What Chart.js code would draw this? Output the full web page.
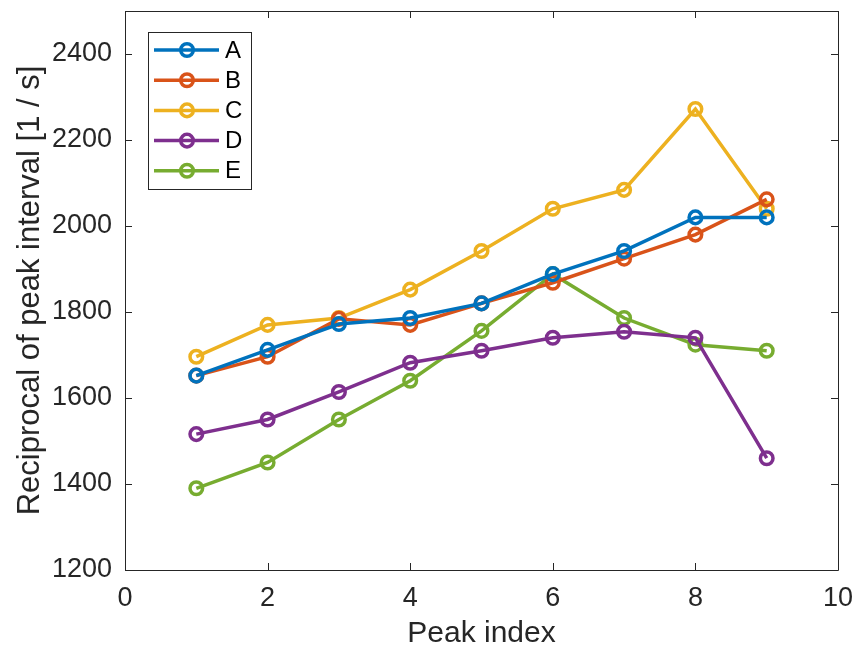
<!DOCTYPE html>
<html>
<head>
<meta charset="utf-8">
<script src="https://cdn.jsdelivr.net/npm/chart.js@4/dist/chart.umd.min.js"></script>
<style>
  html, body { margin: 0; padding: 0; background: #fff; }
  canvas { display: block; }
</style>
</head>
<body>
<canvas id="c" width="857" height="649"></canvas>
<script>
// Peak index along the x axis
const peakIndex = [1, 2, 3, 4, 5, 6, 7, 8, 9];

// Reciprocal of the peak interval [1/s] for each series
const seriesA = [1652, 1712, 1772, 1786, 1820, 1888, 1942, 2020, 2020];
const seriesB = [1652, 1696, 1784, 1770, 1820, 1868, 1924, 1980, 2062];
const seriesC = [1696, 1770, 1786, 1852, 1942, 2040, 2084, 2272, 2040];
const seriesD = [1516, 1550, 1614, 1682, 1710, 1740, 1754, 1740, 1460];
const seriesE = [1390, 1450, 1550, 1640, 1756, 1888, 1786, 1724, 1710];

const seriesNames = ['A', 'B', 'C', 'D', 'E'];
const seriesColors = ['#0072BD', '#D95319', '#EDB120', '#7E2F8E', '#77AC30'];

const xTicks = [0, 2, 4, 6, 8, 10];
const yTicks = [1200, 1400, 1600, 1800, 2000, 2200, 2400];

const FONT = '"Liberation Sans", Arial, sans-serif';
const INK = '#262626';

const allSeries = [seriesA, seriesB, seriesC, seriesD, seriesE];
const datasets = allSeries.map((vals, i) => ({
  label: seriesNames[i],
  data: vals.map((v, k) => ({ x: peakIndex[k], y: v })),
  borderColor: seriesColors[i],
  backgroundColor: 'rgba(0,0,0,0)',
  borderWidth: 3.5,
  pointRadius: 6.3,
  pointBorderWidth: 3.5,
  pointBackgroundColor: 'rgba(0,0,0,0)',
  pointBorderColor: seriesColors[i],
  tension: 0
}));

// Box around the plot area with inward tick marks on all four sides
const axesBox = {
  id: 'axesBox',
  afterDatasetsDraw(chart) {
    const { ctx, chartArea: a, scales } = chart;
    const len = 7;
    ctx.save();
    ctx.strokeStyle = INK;
    ctx.lineWidth = 1;
    ctx.beginPath();
    ctx.rect(Math.round(a.left) + 0.5, Math.round(a.top) + 0.5,
             Math.round(a.right - a.left), Math.round(a.bottom - a.top));
    xTicks.forEach(v => {
      const px = Math.round(scales.x.getPixelForValue(v)) + 0.5;
      ctx.moveTo(px, a.bottom); ctx.lineTo(px, a.bottom - len);
      ctx.moveTo(px, a.top); ctx.lineTo(px, a.top + len);
    });
    yTicks.forEach(v => {
      const py = Math.round(scales.y.getPixelForValue(v)) + 0.5;
      ctx.moveTo(a.left, py); ctx.lineTo(a.left + len, py);
      ctx.moveTo(a.right, py); ctx.lineTo(a.right - len, py);
    });
    ctx.stroke();
    ctx.restore();
  }
};

// Legend drawn inside the plot, top-left, line + circle marker per entry
const innerLegend = {
  id: 'innerLegend',
  afterDraw(chart) {
    const { ctx, chartArea: a } = chart;
    const x0 = a.left + 23, y0 = a.top + 21, w = 103, h = 157;
    ctx.save();
    ctx.fillStyle = '#fff';
    ctx.fillRect(x0, y0, w, h);
    ctx.strokeStyle = INK;
    ctx.lineWidth = 1;
    ctx.strokeRect(x0 + 0.5, y0 + 0.5, w, h);
    ctx.font = '24px ' + FONT;
    ctx.textBaseline = 'middle';
    chart.data.datasets.forEach((ds, i) => {
      const yy = y0 + 18 + i * 30.2;
      ctx.strokeStyle = ds.borderColor;
      ctx.lineWidth = 3.5;
      ctx.beginPath();
      ctx.moveTo(x0 + 6, yy); ctx.lineTo(x0 + 71, yy);
      ctx.stroke();
      ctx.beginPath();
      ctx.arc(x0 + 39, yy, 6.3, 0, Math.PI * 2);
      ctx.stroke();
      ctx.fillStyle = '#000';
      ctx.fillText(ds.label, x0 + 77, yy + 1);
    });
    ctx.restore();
  }
};

function noPad(s) { s.paddingTop = 0; s.paddingBottom = 0; s.paddingLeft = 0; s.paddingRight = 0; }

new Chart(document.getElementById('c'), {
  type: 'line',
  data: { datasets },
  options: {
    responsive: false,
    devicePixelRatio: 1,
    animation: false,
    layout: { padding: { top: 11, right: 19, left: 0, bottom: 0 } },
    plugins: { legend: { display: false }, tooltip: { enabled: false } },
    scales: {
      x: {
        type: 'linear',
        min: 0, max: 10,
        afterBuildTicks(s) { s.ticks = xTicks.map(v => ({ value: v })); },
        afterFit(s) { s.height = 79; noPad(s); },
        grid: { display: false, drawTicks: false },
        border: { display: false },
        ticks: { color: INK, font: { family: FONT, size: 27 }, padding: 12, maxRotation: 0,
                 callback: v => String(v) },
        title: { display: true, text: 'Peak index', color: INK,
                 font: { family: FONT, size: 30 }, padding: { top: 0, bottom: -3 } }
      },
      y: {
        type: 'linear',
        min: 1200, max: 2500,
        afterBuildTicks(s) { s.ticks = yTicks.map(v => ({ value: v })); },
        afterFit(s) { s.width = 125; noPad(s); },
        grid: { display: false, drawTicks: false },
        border: { display: false },
        ticks: { color: INK, font: { family: FONT, size: 27 }, padding: 13,
                 callback: v => String(v) },
        title: { display: true, text: 'Reciprocal of peak interval [1 / s]', color: INK,
                 font: { family: FONT, size: 31 }, padding: { top: 12, bottom: 0 } }
      }
    }
  },
  plugins: [axesBox, innerLegend]
});
</script>
</body>
</html>
